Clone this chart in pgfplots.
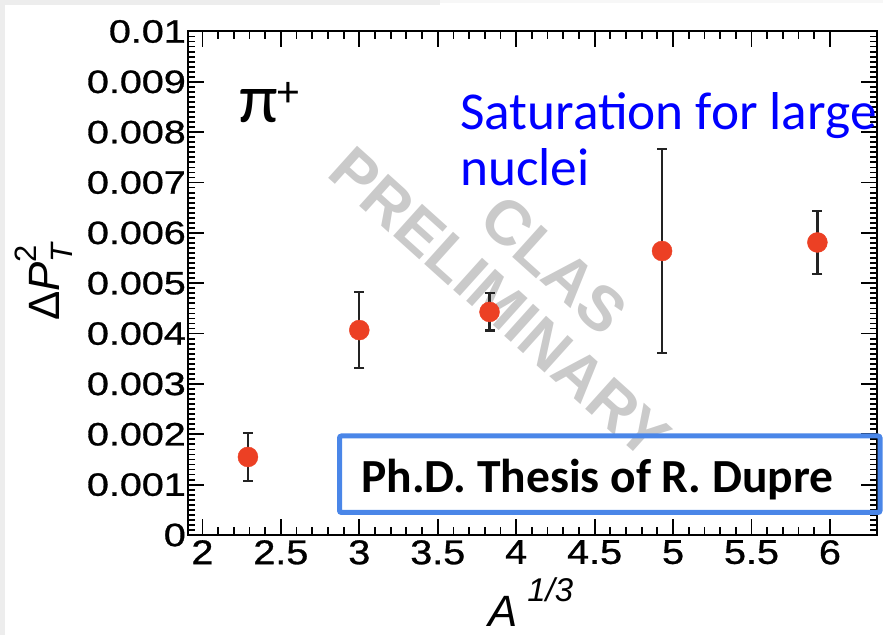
\documentclass[border=0pt]{standalone}
\usepackage{graphicx}
\usepackage{pgfplots}
\pgfplotsset{compat=1.18}
\usepackage{pgfplotstable}
\usepackage{fontspec}
\setmainfont{Carlito}
\newfontfamily\helv{Liberation Sans}
\newfontfamily\helvtick[FakeBold=0.8]{Liberation Sans}

\definecolor{ptred}{RGB}{236,64,36}
\definecolor{boxblue}{RGB}{74,134,232}
\definecolor{wmgray}{RGB}{202,202,202}
\definecolor{errgray}{RGB}{35,35,35}

% wide tick-label digits
\newcommand{\wy}[1]{\scalebox{1.22}[1]{#1}}
\newcommand{\wx}[1]{\scalebox{1.15}[1]{#1}}

% Pt-broadening vs A^{1/3}: x, value, error
\pgfplotstableread{
x     y        e
2.29  0.00155  0.00048
3.00  0.00407  0.00075
3.83  0.00443  0.00037
4.93  0.00564  0.00202
5.92  0.00581  0.00062
}\dptdata

\begin{document}
\begin{tikzpicture}
% watermark (drawn first, behind the data); frame corner is the origin
\begin{scope}[x=1bp, y=1bp]
\node[rotate=-42, text=wmgray, inner sep=0pt,
      font=\helv\bfseries\fontsize{63}{63}\selectfont] at (366,270) {CLAS};
\node[rotate=-42, text=wmgray, inner sep=0pt,
      font=\helv\bfseries\fontsize{63}{63}\selectfont] at (312,232) {PRELIMINARY};
\end{scope}

\begin{axis}[
  scale only axis, width=689bp, height=503.5bp,
  xmin=1.908, xmax=6.30, ymin=0, ymax=0.01,
  axis line style={line width=2bp},
  every tick/.style={black, line width=1.8bp},
  tick align=inside,
  major tick length=16bp, minor tick length=7.5bp,
  xtick={2,2.5,...,6},
  xticklabels={\wx{2},\wx{2.5},\wx{3},\wx{3.5},\wx{4},\wx{4.5},\wx{5},\wx{5.5},\wx{6}},
  ytick={0,0.001,...,0.0101},
  yticklabels={\wy{0},\wy{0.001},\wy{0.002},\wy{0.003},\wy{0.004},\wy{0.005},
               \wy{0.006},\wy{0.007},\wy{0.008},\wy{0.009},\wy{0.01}},
  minor x tick num=4, minor y tick num=9,
  scaled y ticks=false,
  /pgf/number format/assume math mode=true,
  xticklabel style={font=\helvtick\fontsize{34.5}{34.5}\selectfont, inner sep=5bp},
  yticklabel style={font=\helvtick\fontsize{32.5}{32.5}\selectfont, inner sep=2bp},
  clip=false,
]
\addplot[only marks, mark=*, mark size=10bp, color=ptred,
  error bars/.cd, y dir=both, y explicit,
  error bar style={errgray, line width=2.2bp},
  error mark options={rotate=90, mark size=5bp, line width=2.2bp, errgray}]
  table[x=x, y=y, y error=e] {\dptdata};
\end{axis}

\begin{scope}[x=1bp, y=1bp]
\useasboundingbox (-188,-100) rectangle (695,535);
\fill[gray!14] (-188,-100) rectangle (-183,535);
\fill[gray!14] (-188,530) rectangle (252,535);
\fill[gray!6] (252,532) rectangle (695,535);

% axis titles
\node[rotate=90, anchor=base west, inner sep=0pt,
      font=\helv\fontsize{44}{44}\selectfont] at (-128,214)
  {Δ\textit{P}\rlap{\raisebox{-13bp}{\fontsize{31}{31}\selectfont\itshape T}}\raisebox{23bp}{\fontsize{31}{31}\selectfont 2}};
\node[anchor=base west, inner sep=0pt,
      font=\helv\fontsize{44}{44}\selectfont] at (300,-92)
  {\textit{A}\hspace{10bp}\raisebox{25bp}{\fontsize{33}{33}\selectfont\itshape 1/3}};

% annotations
\node[anchor=base west, inner sep=0pt, font=\fontsize{70}{70}\selectfont] at (51,412)
  {π\raisebox{16bp}{\fontsize{44}{44}\selectfont +}};
\node[anchor=base west, inner sep=0pt, text=blue, font=\fontsize{53.5}{53.5}\selectfont] at (272,405)
  {Saturation for large};
\node[anchor=base west, inner sep=0pt, text=blue, font=\fontsize{53.5}{53.5}\selectfont] at (272,349)
  {nuclei};
\draw[boxblue, line width=5bp, rounded corners=2bp] (151.5,99) rectangle (692,22.5);
\node[anchor=base, inner sep=0pt, font=\bfseries\fontsize{47.7}{47.7}\selectfont] at (409.5,42)
  {Ph.D. Thesis of R. Dupre};
\end{scope}
\end{tikzpicture}
\end{document}
